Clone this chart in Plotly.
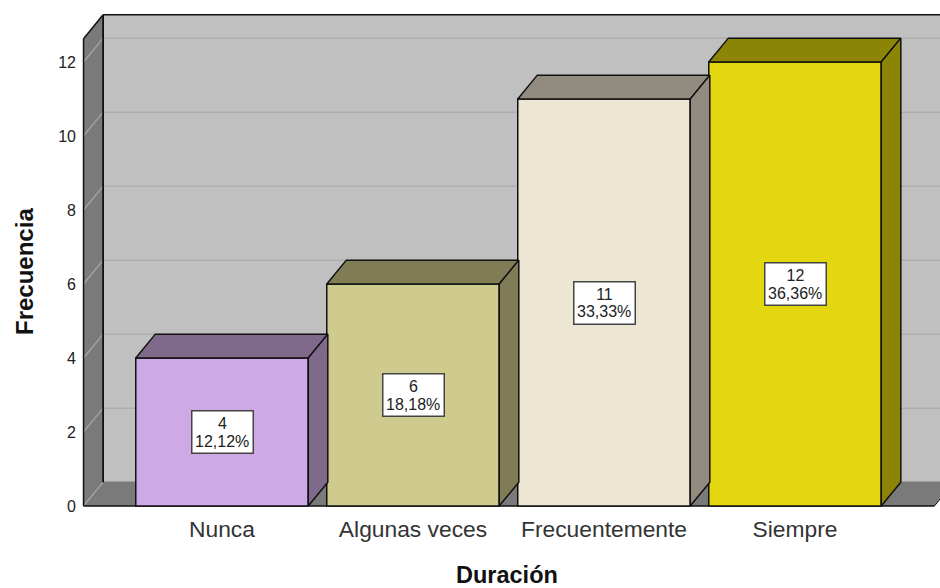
import plotly.graph_objects as go

# Survey results: frequency by duration
categories = ["Nunca", "Algunas veces", "Frecuentemente", "Siempre"]
counts = [4, 6, 11, 12]
percents = ["12,12%", "18,18%", "33,33%", "36,36%"]
y_ticks = [0, 2, 4, 6, 8, 10, 12]

# Face colours of each bar
front_colors = ["#CFA8E6", "#CFCA8E", "#ECE6D2", "#E3D80F"]
shade_colors = ["#7F6A8C", "#7F7C56", "#918C7F", "#8C8407"]

# Pseudo-3D geometry in axis units
BAR_W = 0.903
DX = 0.1025
DY = 0.645
Y_TOP = 12.63
X_LEFT = -0.725
X_RIGHT = 3.73
FLOOR_RIGHT = X_RIGHT + DX
EDGE = "#111111"


def poly(xs, ys, fill, line_color=EDGE, width=0, layer="below"):
    path = "M " + " L ".join(f"{x},{y}" for x, y in zip(xs, ys)) + " Z"
    return dict(type="path", path=path, xref="x", yref="y", fillcolor=fill, layer=layer,
                line=dict(color=line_color, width=width))


def seg(x0, y0, x1, y1, color, width=1.0):
    return dict(type="line", x0=x0, y0=y0, x1=x1, y1=y1, xref="x", yref="y", layer="below",
                line=dict(color=color, width=width))


shapes = [
    # back wall, left wall, floor
    poly([X_LEFT + DX, FLOOR_RIGHT + 1, FLOOR_RIGHT + 1, X_LEFT + DX], [DY, DY, Y_TOP + DY, Y_TOP + DY], "#C0C0C0"),
    poly([X_LEFT, X_LEFT + DX, X_LEFT + DX, X_LEFT], [0, DY, Y_TOP + DY, Y_TOP], "#7A7A7A"),
    poly([X_LEFT, X_RIGHT, X_RIGHT + DX, X_LEFT + DX], [0, 0, DY, DY], "#7A7A7A"),
]
for t in y_ticks:
    if t:
        shapes.append(seg(X_LEFT + DX, t + DY, FLOOR_RIGHT + 1, t + DY, "#AEAEAE", 1.5))
    shapes.append(seg(X_LEFT, t, X_LEFT + DX, t + DY, "#A6A6A6", 1.2))
shapes += [
    seg(X_LEFT + DX, DY, FLOOR_RIGHT + 1, DY, "#6A6A6A", 1),
    seg(X_LEFT + DX, DY, X_LEFT + DX, Y_TOP + DY, EDGE, 1.8),
    seg(X_LEFT, 0, X_LEFT, Y_TOP, EDGE, 1.5),
    seg(X_LEFT, Y_TOP, X_LEFT + DX, Y_TOP + DY, EDGE, 1.5),
    seg(X_LEFT + DX, Y_TOP + DY, FLOOR_RIGHT + 1, Y_TOP + DY, EDGE, 1.5),
    seg(X_LEFT, 0, X_RIGHT, 0, EDGE, 1.5),
    seg(X_RIGHT, 0, X_RIGHT + DX, DY, EDGE, 1),
]

fig = go.Figure()
fig.add_trace(go.Bar(
    x=list(range(len(categories))), y=counts, width=BAR_W,
    marker=dict(color=front_colors, line=dict(color=EDGE, width=1.5)),
    hoverinfo="skip", showlegend=False,
))

# Top and right faces follow from each bar's value
for i, v in enumerate(counts):
    xl, xr = i - BAR_W / 2, i + BAR_W / 2
    fig.add_trace(go.Scatter(
        x=[xl, xr, xr + DX, xl + DX, xl], y=[v, v, v + DY, v + DY, v],
        mode="lines", fill="toself", fillcolor=shade_colors[i],
        line=dict(color=EDGE, width=1.5), hoverinfo="skip", showlegend=False,
    ))
    fig.add_trace(go.Scatter(
        x=[xr, xr + DX, xr + DX, xr, xr], y=[0, DY, v + DY, v, 0],
        mode="lines", fill="toself", fillcolor=shade_colors[i],
        line=dict(color=EDGE, width=1.5), hoverinfo="skip", showlegend=False,
    ))

annotations = []
for i, (v, pct) in enumerate(zip(counts, percents)):
    annotations.append(dict(
        x=i, y=v / 2, xref="x", yref="y", text=str(v), showarrow=False, width=54, height=35,
        valign="top", align="center", bgcolor="white", bordercolor="#444444", borderwidth=1.5,
        borderpad=3, font=dict(family="Liberation Sans", size=16, color="#222222"),
    ))
    annotations.append(dict(
        x=i, y=v / 2, xref="x", yref="y", text=pct, showarrow=False, yshift=-9,
        font=dict(family="Liberation Sans", size=16, color="#222222"),
    ))
annotations.append(dict(
    x=507, y=575, xref="paper", yref="paper", text="<b>Duración</b>", showarrow=False,
    font=dict(family="Liberation Sans", size=23.5, color="#111111"),
))
annotations.append(dict(
    x=24, y=272, xref="paper", yref="paper", text="<b>Frecuencia</b>", showarrow=False, textangle=-90,
    font=dict(family="Liberation Sans", size=24, color="#111111"),
))

W, H = 940, 588
L, R, T, B = 80, 0, 10, 80
# Axis limits keep 191 px per category and 37 px per unit, with zero at y=506
x_range = [(L - 222) / 191, (W - R - 222) / 191]
y_range = [(506 - (H - B)) / 37, (506 - T) / 37]

# Titles are placed in pixels, so map them into paper fractions
for a in annotations:
    if a["xref"] == "paper":
        a["x"] = (a["x"] - L) / (W - L - R)
        a["y"] = 1 - (a["y"] - T) / (H - T - B)

fig.update_layout(
    width=W, height=H, margin=dict(l=L, r=R, t=T, b=B, pad=0),
    paper_bgcolor="white", plot_bgcolor="white", barmode="overlay",
    shapes=shapes, annotations=annotations, showlegend=False,
    xaxis=dict(range=x_range, tickmode="array", tickvals=list(range(len(categories))), ticktext=categories,
               showgrid=False, zeroline=False, showline=False, ticks="", ticklabelstandoff=5,
               tickfont=dict(family="Liberation Sans", size=22.8, color="#333333")),
    yaxis=dict(range=y_range, tickmode="array", tickvals=y_ticks, showgrid=False, zeroline=False,
               showline=False, ticks="", ticklabelstandoff=3,
               tickfont=dict(family="Liberation Sans", size=16, color="#222222")),
)
for a in fig.layout.annotations:
    if a.xref == "paper":
        a.update(xanchor="center", yanchor="middle")

fig.write_html("out.html")
